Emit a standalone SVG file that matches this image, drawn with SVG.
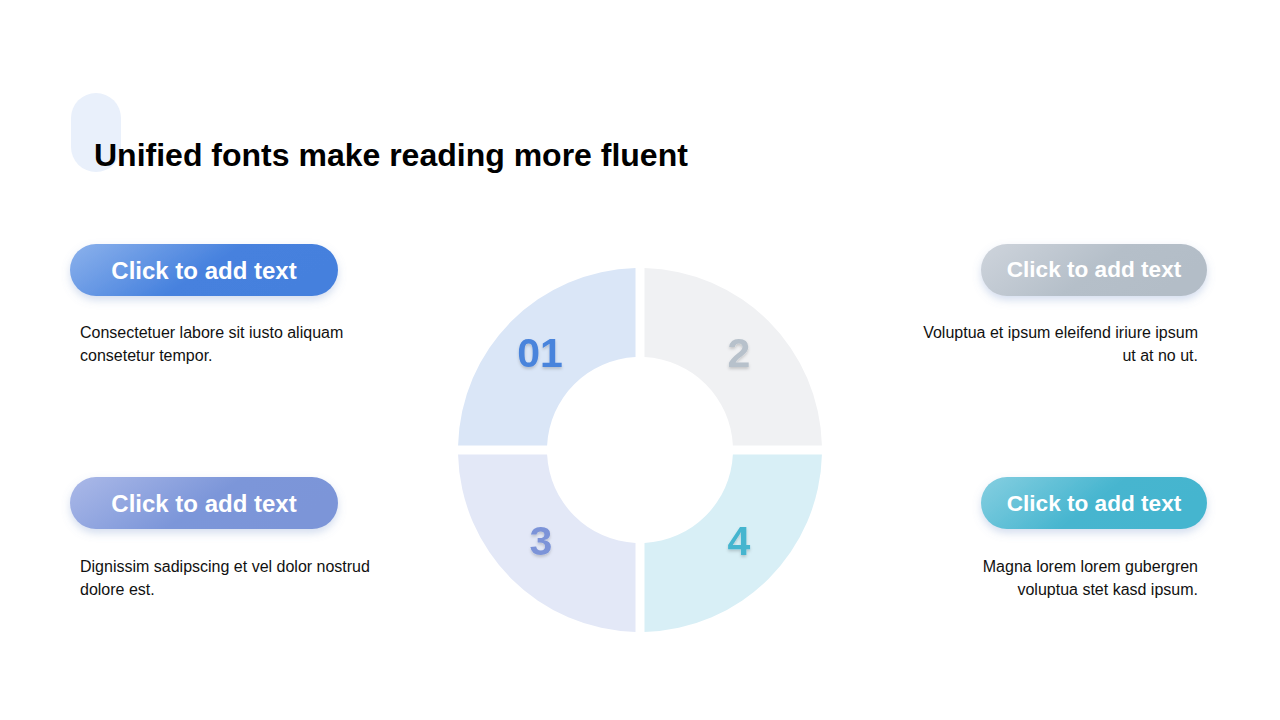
<svg xmlns="http://www.w3.org/2000/svg" width="1280" height="720" viewBox="0 0 1280 720">
<style>
.title{font-family:"Liberation Sans",Arial,sans-serif;font-weight:bold;font-size:32px;fill:#000}
.btn{font-family:"Liberation Sans",Arial,sans-serif;font-weight:bold;font-size:24px;fill:#fff;text-anchor:middle}
.btn.s{font-size:22.6px}
.body{font-family:"Liberation Sans",Arial,sans-serif;font-size:16px;fill:#111}
.r{text-anchor:end}
.num{font-family:"Liberation Sans",Arial,sans-serif;font-weight:bold;font-size:41px;text-anchor:middle}
</style>
<defs>
<linearGradient id="g1" x1="0" y1="0" x2="1" y2="0.3"><stop offset="0" stop-color="#8cb2ec"/><stop offset="0.6" stop-color="#4681de"/><stop offset="1" stop-color="#4580dd"/></linearGradient>
<linearGradient id="g2" x1="0" y1="0" x2="1" y2="0.3"><stop offset="0" stop-color="#ced4dc"/><stop offset="0.6" stop-color="#b5bfc9"/><stop offset="1" stop-color="#b3bdc7"/></linearGradient>
<linearGradient id="g3" x1="0" y1="0" x2="1" y2="0.3"><stop offset="0" stop-color="#abb9e8"/><stop offset="0.6" stop-color="#7c96d9"/><stop offset="1" stop-color="#7b95d8"/></linearGradient>
<linearGradient id="g4" x1="0" y1="0" x2="1" y2="0.3"><stop offset="0" stop-color="#86cfe1"/><stop offset="0.6" stop-color="#46b5cf"/><stop offset="1" stop-color="#45b5cf"/></linearGradient>
<filter id="sh" x="-20%" y="-40%" width="140%" height="200%"><feDropShadow dx="0" dy="4" stdDeviation="4" flood-color="#6e8fc9" flood-opacity="0.3"/></filter>
<filter id="tsh" x="-30%" y="-30%" width="160%" height="160%"><feDropShadow dx="0" dy="2" stdDeviation="1.5" flood-color="#000" flood-opacity="0.18"/></filter>
</defs>
<rect width="1280" height="720" fill="#fff"/>
<g id="header">
<rect x="71" y="93" width="50" height="79" rx="25" fill="#e9f0fb"/>
<text class="title" x="94" y="166">Unified fonts make reading more fluent</text>
</g>
<g id="ring">
<g id="q1"><path d="M635.5,268.06 A182,182 0 0 0 458.06,445.5 L547.11,445.5 A93,93 0 0 1 635.5,357.11 Z" fill="#dae6f7"/><text class="num" x="540" y="367" fill="#4a84dc" filter="url(#tsh)">01</text></g>
<g id="q2"><path d="M644.5,268.06 A182,182 0 0 1 821.94,445.5 L732.89,445.5 A93,93 0 0 0 644.5,357.11 Z" fill="#f0f1f3"/><text class="num" x="739" y="367" fill="#b7c1cb" filter="url(#tsh)">2</text></g>
<g id="q3"><path d="M458.06,454.5 A182,182 0 0 0 635.5,631.94 L635.5,542.89 A93,93 0 0 1 547.11,454.5 Z" fill="#e3e8f7"/><text class="num" x="541" y="555" fill="#7b93d8" filter="url(#tsh)">3</text></g>
<g id="q4"><path d="M821.94,454.5 A182,182 0 0 1 644.5,631.94 L644.5,542.89 A93,93 0 0 0 732.89,454.5 Z" fill="#d8eff6"/><text class="num" x="739" y="555" fill="#45b5cf" filter="url(#tsh)">4</text></g>
</g>
<g id="item1">
<rect x="70" y="244" width="268" height="52" rx="26" fill="url(#g1)" filter="url(#sh)"/>
<text class="btn" x="204" y="279">Click to add text</text>
<text class="body" x="80" y="338">Consectetuer labore sit iusto aliquam</text>
<text class="body" x="80" y="361">consetetur tempor.</text>
</g>
<g id="item2">
<rect x="981" y="244" width="226" height="52" rx="26" fill="url(#g2)" filter="url(#sh)"/>
<text class="btn s" x="1094" y="277">Click to add text</text>
<text class="body r" x="1198" y="338">Voluptua et ipsum eleifend iriure ipsum</text>
<text class="body r" x="1198" y="361">ut at no ut.</text>
</g>
<g id="item3">
<rect x="70" y="477" width="268" height="52" rx="26" fill="url(#g3)" filter="url(#sh)"/>
<text class="btn" x="204" y="512">Click to add text</text>
<text class="body" x="80" y="572">Dignissim sadipscing et vel dolor nostrud</text>
<text class="body" x="80" y="595">dolore est.</text>
</g>
<g id="item4">
<rect x="981" y="477" width="226" height="52" rx="26" fill="url(#g4)" filter="url(#sh)"/>
<text class="btn s" x="1094" y="511">Click to add text</text>
<text class="body r" x="1198" y="572">Magna lorem lorem gubergren</text>
<text class="body r" x="1198" y="595">voluptua stet kasd ipsum.</text>
</g>
<g id="connectors"></g>
</svg>
